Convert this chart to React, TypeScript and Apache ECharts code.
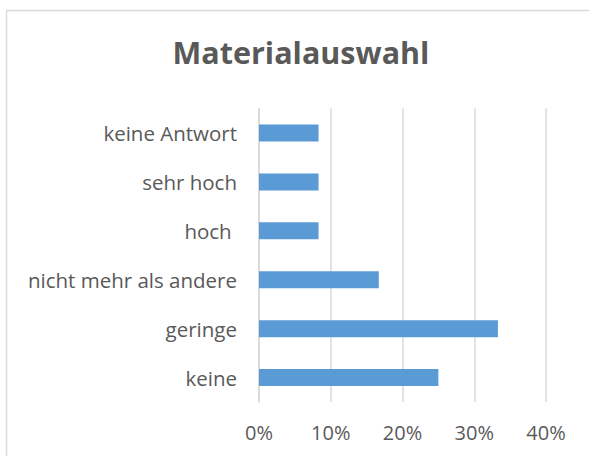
import React, { useEffect, useRef } from "react";
import * as echarts from "echarts";

const categories = ["keine", "geringe", "nicht mehr als andere", "hoch ", "sehr hoch", "keine Antwort"];
const values = [25, 33.3, 16.7, 8.3, 8.3, 8.3];
const tickValues = [0, 10, 20, 30, 40];
const titleText = "Materialauswahl";

export default function App() {
  const ref = useRef<HTMLDivElement>(null);
  useEffect(() => {
    document.body.style.margin = "0";
    const chart = echarts.init(ref.current!, null, { renderer: "svg" });
    const font = "'Open Sans', sans-serif";
    chart.setOption({
      animation: false,
      backgroundColor: "#ffffff",
      title: {
        text: titleText,
        left: 296,
        textAlign: "center",
        top: 31,
        textStyle: { fontFamily: font, fontSize: 30.5, fontWeight: "bold", color: "#595959" },
      },
      graphic: [
        {
          type: "rect",
          shape: { x: 6.5, y: 10.5, width: 700, height: 600 },
          style: { fill: "none", stroke: "#d9d9d9", lineWidth: 1.5 },
          silent: true,
        },
      ],
      grid: { left: 259, right: 43, top: 108.5, bottom: 54, containLabel: false },
      xAxis: {
        type: "value",
        min: tickValues[0],
        max: tickValues[tickValues.length - 1],
        interval: 10,
        axisLine: { show: false },
        axisTick: { show: false },
        splitLine: { show: true, lineStyle: { color: "#d9d9d9", width: 1.5 } },
        axisLabel: {
          formatter: "{value}%",
          fontFamily: font,
          fontSize: 20,
          color: "#595959",
          margin: 20,
        },
      },
      yAxis: {
        type: "category",
        data: categories,
        axisLine: { show: true, lineStyle: { color: "#d9d9d9", width: 1.5 } },
        axisTick: { show: false },
        axisLabel: { fontFamily: font, fontSize: 20.5, color: "#595959", margin: 22 },
      },
      series: [
        {
          type: "bar",
          data: values,
          barWidth: 17,
          itemStyle: { color: "#5b9bd5" },
        },
      ],
    });
    return () => chart.dispose();
  }, []);
  return <div ref={ref} style={{ width: 589, height: 456, position: "absolute", left: 0, top: 0 }} />;
}
